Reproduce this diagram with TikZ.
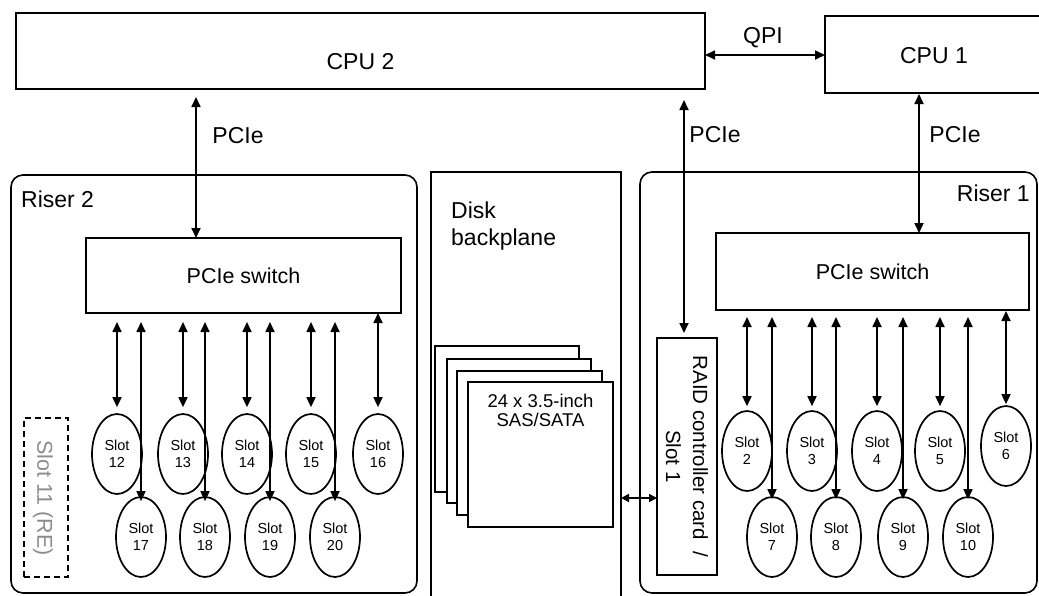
\documentclass[tikz,border=0pt]{standalone}
\usepackage{fontspec}
\setmainfont{Liberation Sans}
\usetikzlibrary{arrows.meta,shapes.geometric,calc}
\definecolor{regray}{RGB}{140,140,140}
\begin{document}
\begin{tikzpicture}[x=1pt,y=-1pt,
  box/.style={draw,line width=1.8pt,rectangle,inner sep=0pt,outer sep=0pt},
  riser/.style={draw,line width=1.6pt,rounded corners=12pt,inner sep=0pt,outer sep=0pt},
  slot/.style={draw,ellipse,line width=1.7pt,minimum width=50pt,minimum height=80pt,inner sep=0pt,align=center,font=\fontsize{14.5}{17}\selectfont},
  bi/.style={{Triangle[length=10pt,width=9pt]}-{Triangle[length=10pt,width=9pt]},line width=1.7pt},
  lbl/.style={inner sep=0pt,font=\fontsize{23}{27}\selectfont},
  swtext/.style={font=\fontsize{21.5}{25}\selectfont},
]
\useasboundingbox (0,0) rectangle (1039,595);
\clip (0,0) rectangle (1039,595);

% containers
\node[riser,minimum width=406pt,minimum height=418pt,anchor=north west] (r2) at (11,175) {};
\node[riser,minimum width=397pt,minimum height=421pt,anchor=north west] (r1) at (640,172) {};
\node[box,line width=1.6pt,minimum width=190pt,minimum height=440pt,anchor=north west] (dbp) at (431,172) {};

% CPUs
\node[box,minimum width=689pt,minimum height=76pt,anchor=north west] (cpu2) at (16,13) {};
\node[lbl] (cpu2t) at (360.5,61.5) {CPU 2};
\node[box,minimum width=220pt,minimum height=77pt,anchor=north west] (cpu1) at (825,16) {};
\node[lbl] (cpu1t) at (934,56) {CPU 1};

\draw[bi] (cpu2.east |- 0,55) -- (cpu1.west |- 0,55);
\node[lbl] (qpi) at (763,38) {QPI};

% labels
\node[lbl,anchor=west] (r2t) at (21,199.5) {Riser 2};
\node[lbl,anchor=east] (r1t) at (1030,193) {Riser 1};
\node[lbl,anchor=north west,align=left] (dbpt) at (451,202) {Disk\\backplane};

% switches
\node[box,swtext,minimum width=315pt,minimum height=75pt,anchor=north west] (sw2) at (86,238) {PCIe switch};
\node[box,swtext,minimum width=313pt,minimum height=77pt,anchor=north west] (sw1) at (716,233) {PCIe switch};

% RAID card
\node[box,minimum width=60pt,minimum height=237pt,anchor=north west] (raid) at (657,338) {};
\node[rotate=-90,align=center,inner sep=0pt,font=\fontsize{20.5}{27}\selectfont] (raidt) at (raid.center) {RAID controller card \ /\\Slot 1};

% PCIe links to CPUs
\draw[bi,shorten <=8pt] (196,0 |- cpu2.south) -- (196,0 |- sw2.north);
\draw[bi,shorten <=11pt,shorten >=5pt] (684,0 |- cpu2.south) -- (684,0 |- raid.north);
\draw[bi,shorten <=1pt] (919,0 |- cpu1.south) -- (919,0 |- sw1.north);
\node[lbl] (p2) at (238,136) {PCIe};
\node[lbl] (pm) at (715,135) {PCIe};
\node[lbl] (p1) at (955,135) {PCIe};

% disk stack
\node[box,fill=white,line width=1.6pt,minimum width=144pt,minimum height=146pt,anchor=north west] (d1) at (435,346) {};
\node[box,fill=white,line width=1.6pt,minimum width=144pt,minimum height=144pt,anchor=north west] (d2) at (447,359) {};
\node[box,fill=white,line width=1.6pt,minimum width=145pt,minimum height=144pt,anchor=north west] (d3) at (457,371) {};
\node[box,fill=white,line width=1.6pt,minimum width=145pt,minimum height=145pt,anchor=north west] (d4) at (468,382) {};
\node[anchor=north,align=center,inner sep=0pt,font=\fontsize{18.5}{19}\selectfont] (d4t) at (540.5,394) {24 x 3.5-inch\\SAS/SATA};
\draw[{Triangle[length=8pt,width=8pt]}-{Triangle[length=8pt,width=8pt]},line width=1.7pt] (dbp.east |- 0,498) -- (raid.west |- 0,498);

% Slot 11
\node[draw,dash pattern=on 6pt off 4pt,line width=2pt,minimum width=44pt,minimum height=159pt,anchor=north west,inner sep=0pt,outer sep=0pt] (s11) at (24,418) {};
\node[rotate=-90,text=regray,inner sep=0pt,font=\fontsize{21.5}{25}\selectfont] (s11t) at (43,498) {Slot 11 (RE)};

% Riser 2 slots
\node[slot] (s12) at (117,454) {Slot\\12};
\node[slot] (s13) at (183,454) {Slot\\13};
\node[slot] (s14) at (247,454) {Slot\\14};
\node[slot] (s15) at (311,454) {Slot\\15};
\node[slot] (s16) at (378,454) {Slot\\16};
\node[slot] (s17) at (141,537) {Slot\\17};
\node[slot] (s18) at (205,537) {Slot\\18};
\node[slot] (s19) at (270,537) {Slot\\19};
\node[slot] (s20) at (335,537) {Slot\\20};

% Riser 1 slots
\node[slot] (s2) at (747,451) {Slot\\2};
\node[slot] (s3) at (812,451) {Slot\\3};
\node[slot] (s4) at (877,451) {Slot\\4};
\node[slot] (s5) at (940,451) {Slot\\5};
\node[slot] (s6) at (1006,446) {Slot\\6};
\node[slot] (s7) at (772,537) {Slot\\7};
\node[slot] (s8) at (836,537) {Slot\\8};
\node[slot] (s9) at (903,537) {Slot\\9};
\node[slot] (s10) at (968,537) {Slot\\10};

% Riser 2 links
\foreach \s in {s12,s13,s14,s15}
  \draw[bi,shorten <=9pt,shorten >=6pt] (sw2.south -| \s.north) -- (\s.north);
\draw[bi,shorten >=6pt] (sw2.south -| s16.north) -- (s16.north);
\foreach \s in {s17,s18,s19,s20}
  \draw[bi,shorten <=9pt,shorten >=-5pt] (sw2.south -| \s.north) -- (\s.north);

% Riser 1 links
\foreach \s in {s2,s3,s4,s5}
  \draw[bi,shorten <=7pt,shorten >=4pt] (sw1.south -| \s.north) -- (\s.north);
\draw[bi,shorten <=1pt,shorten >=1pt] (sw1.south -| s6.north) -- (s6.north);
\foreach \s in {s7,s8,s9,s10}
  \draw[bi,shorten <=7pt,shorten >=-3pt] (sw1.south -| \s.north) -- (\s.north);
\end{tikzpicture}
\end{document}
